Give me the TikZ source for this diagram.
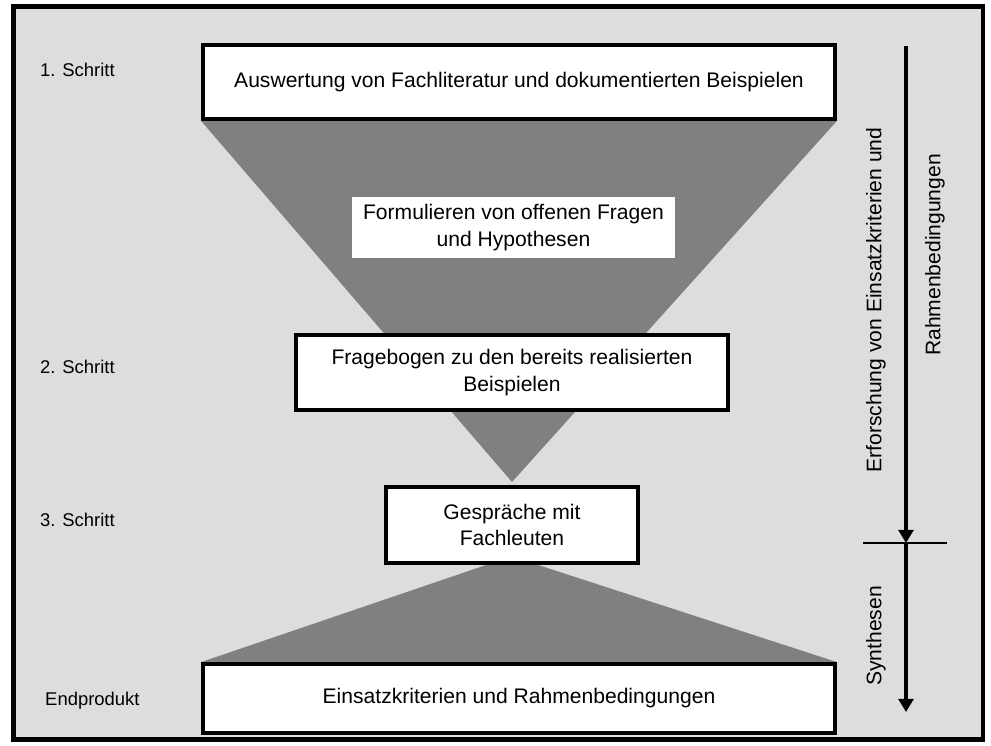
\documentclass[tikz,border=0pt]{standalone}
\usepackage{fontspec}
\setmainfont{Liberation Sans}
\usetikzlibrary{arrows.meta,backgrounds,positioning}
\definecolor{panelgray}{RGB}{221,221,221}
\definecolor{funnelgray}{RGB}{128,128,128}
\tikzset{%
	stepbox/.style   = {draw, rectangle, line width=2.2pt, fill=white, align=center, font=\fontsize{12}{15}\selectfont},
	note/.style      = {rectangle, fill=white, inner sep=0pt, align=center, font=\fontsize{12}{15}\selectfont},
	steplabel/.style = {anchor=west, font=\fontsize{10.5}{13}\selectfont},
	sidelabel/.style = {rotate=90, font=\fontsize{12}{15}\selectfont},
	funnel/.style    = {fill=funnelgray},
	flow/.style      = {line width=2pt, -{Triangle[length=7.5pt,width=8.5pt]}},
}

\begin{document}
\begin{tikzpicture}[x=0.02cm,y=-0.02cm]
		\useasboundingbox (0,0) rectangle (991,746);
		
		% boxes of the steps
		\node[stepbox, minimum width=12.64cm, minimum height=1.48cm] (ausw) at (519,82) {Auswertung von Fachliteratur und dokumentierten Beispielen};
		\node[note, minimum width=6.46cm, minimum height=1.22cm] (fragen) at (513.5,227.5) {Formulieren von offenen Fragen\\und Hypothesen};
		\node[stepbox, minimum width=8.64cm, minimum height=1.5cm] (bogen) at (512,372.5) {Fragebogen zu den bereits realisierten\\Beispielen};
		\node[stepbox, minimum width=5.04cm, minimum height=1.52cm] (gespr) at (512,525) {Gespr\"ache mit\\Fachleuten};
		\node[stepbox, minimum width=12.64cm, minimum height=1.38cm] (endp) at (519,698.5) {Einsatzkriterien und Rahmenbedingungen};
		
		% labels on the left
		\node[steplabel] (s1) at (34,70) {1. Schritt};
		\node[steplabel] (s2) at (34,367) {2. Schritt};
		\node[steplabel] (s3) at (34,520) {3. Schritt};
		\node[steplabel] (s4) at (39,701) {Endprodukt};
		
		% frame and funnel behind the boxes
		\begin{scope}[on background layer]
		\draw[line width=2.8pt, fill=panelgray] (13.5,6.5) rectangle (983,739.5);
		\coordinate (apex) at (512,482);
		\fill[funnel] (ausw.south west) -- (ausw.south east) -- (apex) -- cycle;
		\fill[funnel] (492,563) -- (532,563) -- (endp.north east) -- (endp.north west) -- cycle;
		\end{scope}
		
		% phases on the right
		\coordinate (top) at (906,46);
		\coordinate (split) at (906,543);
		\coordinate (bottom) at (906,712);
		\draw[flow] (top) -- (split);
		\draw[flow] (split) -- (bottom);
		\draw[line width=1.1pt] (863,543) -- (947,543);
		
		\node[sidelabel] (erf) at (876,300) {Erforschung von Einsatzkriterien und};
		\node[sidelabel] (rahmen) at (935,255) {Rahmenbedingungen};
		\node[sidelabel] (synth) at (876,636) {Synthesen};
		
\end{tikzpicture}
\end{document}
